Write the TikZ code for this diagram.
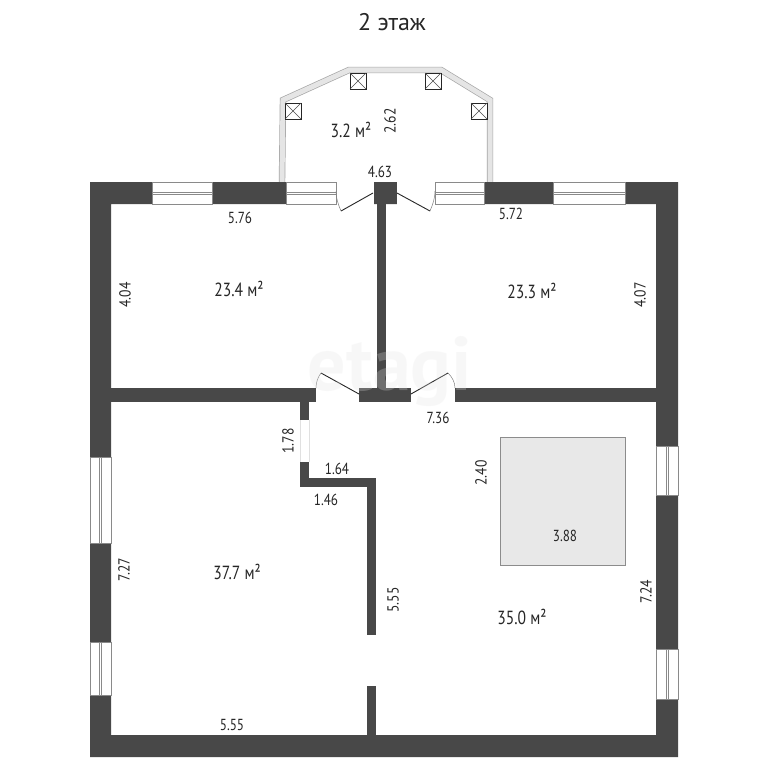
\documentclass[tikz,border=0pt]{standalone}
\usepackage{fontspec}
\setmainfont{PT Sans}
\definecolor{wallc}{HTML}{484848}
\definecolor{winc}{HTML}{8A8A8A}
\tikzset{
  wallp/.style={fill=wallc,draw=none},
  baywall/.style={draw=black!35,line width=6.4pt,line join=miter},
  baywallin/.style={draw=black!10,line width=5pt,line join=miter},
  leaf/.style={draw=black!85,line width=.9pt},
  swing/.style={draw=black!50,line width=.5pt},
  lbl/.style={font=\fontsize{16}{18}\selectfont,text=black!85,inner sep=0pt,xscale=.82},
  rlbl/.style={font=\fontsize{16}{18}\selectfont,text=black!85,inner sep=0pt,yscale=.85,rotate=90},
  area/.style={font=\fontsize{19}{21}\selectfont,text=black!85,inner sep=0pt,xscale=.82},
  skyl/.style={draw=black!85,line width=1pt,fill=white}
}
\newcommand{\hwin}[2]{%
  \fill[white] (#1,182) rectangle (#2,204);
  \draw[winc,line width=.6pt] (#1,182) rectangle (#2,204);
  \draw[winc,line width=.6pt] (#1,192) -- (#2,192) (#1,194) -- (#2,194);}
\newcommand{\vwin}[4]{%
  \fill[white] (#1,#3) rectangle (#2,#4);
  \draw[winc,line width=.6pt] (#1,#3) rectangle (#2,#4);
  \draw[winc,line width=.6pt] ({(#1+#2)/2-1},#3) -- ({(#1+#2)/2-1},#4) ({(#1+#2)/2+1},#3) -- ({(#1+#2)/2+1},#4);}
\newcommand{\skylight}[2]{%
  \draw[skyl] (#1,#2) rectangle ++(16,16);
  \draw[black!70,line width=.5pt] (#1,#2) -- ++(16,16) (#1+16,#2) -- ++(-16,16);}
\begin{document}
\begin{tikzpicture}[x=1pt,y=-1pt]
\useasboundingbox (0,0) rectangle (768,768);
\fill[white] (0,0) rectangle (768,768);
% bay
\draw[baywall] (282,182) -- (283,100) -- (349,70) -- (441,70) -- (490,100) -- (490,182);
\draw[baywallin] (282,182) -- (283,100) -- (349,70) -- (441,70) -- (490,100) -- (490,182);
\skylight{350}{73}\skylight{425}{73}\skylight{285}{103}\skylight{471}{103}
% outer walls
\fill[wallp,even odd rule] (90,182) rectangle (678,757) (111,204) rectangle (656,735);
% interior walls
\fill[wallp] (111,388) rectangle (656,402);
\fill[wallp] (374,182) rectangle (397,204);
\fill[wallp] (377,204) rectangle (386,388);
\fill[wallp] (300,402) rectangle (309,487);
\fill[wallp] (300,478) rectangle (376,487);
\fill[wallp] (367,478) rectangle (376,735);
% door gaps
\fill[white] (316,387) rectangle (359,403);
\fill[white] (411,387) rectangle (455,403);
\fill[white] (336,181) rectangle (374,205);
\fill[white] (397,181) rectangle (435,205);
\fill[white] (367,635) rectangle (376,686);
% interior window
\fill[white] (300,420) rectangle (309,462);
\draw[black!12,line width=.5pt] (300,420) -- (300,462) (309,420) -- (309,462);
% windows
\hwin{152}{212}\hwin{286}{336}\hwin{435}{484}\hwin{553}{625}
\vwin{90}{111}{457}{543}\vwin{90}{111}{642}{695}
\vwin{656}{678}{446}{495}\vwin{656}{678}{649}{699}
% doors
\draw[leaf] (373,193) -- (341,211);
\draw[swing] (341,211) .. controls (338,204) and (336,198) .. (336,191);
\draw[leaf] (397,193) -- (430,211);
\draw[swing] (430,211) .. controls (433,204) and (435,198) .. (435,191);
\draw[leaf] (359,394) -- (321,373);
\draw[swing] (321,373) .. controls (318,377) and (316,382) .. (316,388);
\draw[leaf] (411,394) -- (448,373);
\draw[swing] (448,373) .. controls (452,377) and (455,382) .. (455,388);
% stair void
\draw[fill=black!9,draw=black!45,line width=.6pt] (500,437) rectangle (625,565);
% watermark
\node[font=\fontsize{76}{80}\bfseries\selectfont,text=black!11,opacity=.25,inner sep=0pt] (mark) at (390,372) {etagi};
% labels
\node[font=\fontsize{24}{26}\selectfont,text=black!85,inner sep=0pt] (title) at (392,22) {2 этаж};
\node[area] (a1) at (351,130) {3.2 м²};
\node[area] (a2) at (239,289) {23.4 м²};
\node[area] (a3) at (532,291) {23.3 м²};
\node[area] (a4) at (237,572) {37.7 м²};
\node[area] (a5) at (522,617) {35.0 м²};
\node[rlbl] (d1) at (390,121) {2.62};
\node[lbl] (d2) at (380,172) {4.63};
\node[lbl] (d3) at (240,218) {5.76};
\node[lbl] (d4) at (511,214) {5.72};
\node[rlbl] (d5) at (125,295) {4.04};
\node[rlbl] (d6) at (640,295) {4.07};
\node[lbl] (d7) at (438,418) {7.36};
\node[rlbl] (d8) at (288,441) {1.78};
\node[lbl] (d9) at (337,469) {1.64};
\node[lbl] (d10) at (326,500) {1.46};
\node[rlbl] (d11) at (481,473) {2.40};
\node[lbl] (d12) at (565,536) {3.88};
\node[rlbl] (d13) at (124,570) {7.27};
\node[rlbl] (d14) at (393,600) {5.55};
\node[rlbl] (d15) at (646,592) {7.24};
\node[lbl] (d16) at (232,725) {5.55};
\end{tikzpicture}
\end{document}
